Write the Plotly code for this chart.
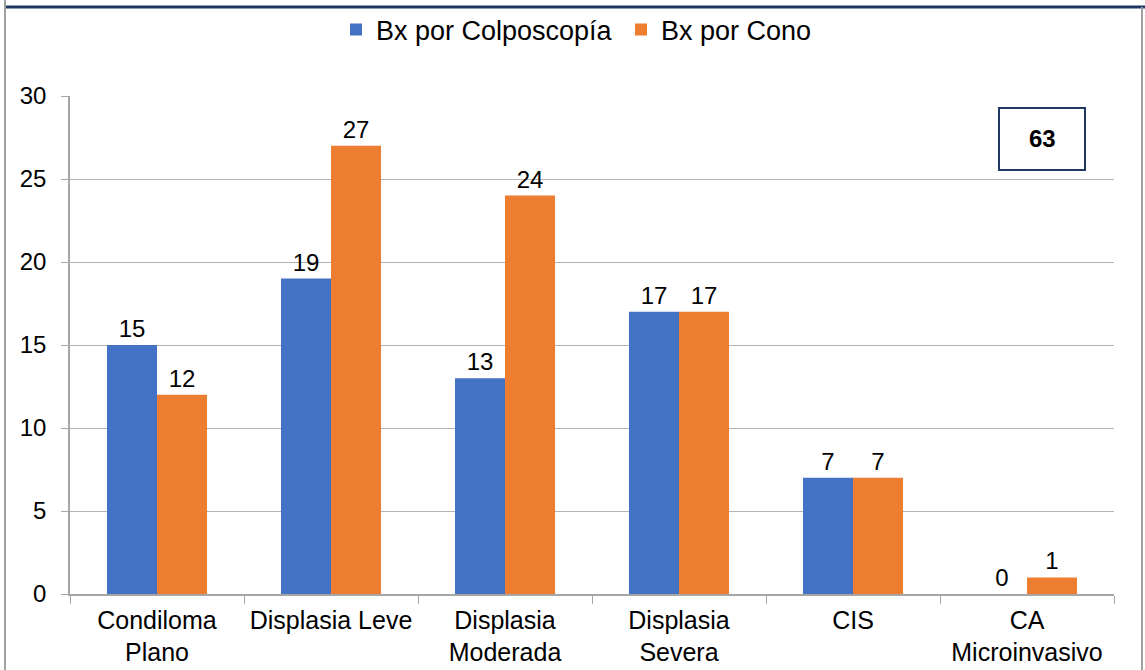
import plotly.graph_objects as go

categories = ["Condiloma<br>Plano", "Displasia Leve", "Displasia<br>Moderada",
              "Displasia<br>Severa", "CIS", "CA<br>Microinvasivo"]
colposcopia = [15, 19, 13, 17, 7, 0]
cono = [12, 27, 24, 17, 7, 1]
series_names = ["Bx por Colposcopía", "Bx por Cono"]
total_label = "63"

FONT = "Liberation Sans, Arial, sans-serif"
FS_X = 25
FS_LEG = 27
FS_Y = 24
FS_LBL = 24
W, H = 1145, 670
L, R, T, B = 70, 31, 96, 76
pw, ph = W - L - R, H - T - B

def px_x(p):
    return (p - L) / pw

def px_y(p):
    return (H - B - p) / ph

fig = go.Figure()
fig.add_trace(go.Bar(x=categories, y=colposcopia, name=series_names[0],
                     marker=dict(color="#4472C4", line=dict(width=0)),
                     text=colposcopia, textposition="outside",
                     textfont=dict(size=FS_LBL, color="black", family=FONT),
                     cliponaxis=False))
fig.add_trace(go.Bar(x=categories, y=cono, name=series_names[1],
                     marker=dict(color="#ED7D31", line=dict(width=0)),
                     text=cono, textposition="outside",
                     textfont=dict(size=FS_LBL, color="black", family=FONT),
                     cliponaxis=False))

shapes = [
    dict(type="line", xref="paper", yref="paper", x0=px_x(4), x1=px_x(1145), y0=px_y(7), y1=px_y(7),
         line=dict(color="#1F3864", width=3)),
    dict(type="line", xref="paper", yref="paper", x0=px_x(5), x1=px_x(5), y0=px_y(0), y1=px_y(670),
         line=dict(color="#A0A0A0", width=2)),
    dict(type="line", xref="paper", yref="paper", x0=px_x(1142), x1=px_x(1142), y0=px_y(7), y1=px_y(670),
         line=dict(color="#A0A0A0", width=2)),
    dict(type="rect", xref="paper", yref="paper", x0=px_x(999), x1=px_x(1085), y0=px_y(108), y1=px_y(170),
         line=dict(color="#1F3864", width=2), fillcolor="white"),
]

fig.update_layout(
    width=W, height=H,
    margin=dict(l=L, r=R, t=T, b=B, autoexpand=False),
    paper_bgcolor="white", plot_bgcolor="white",
    font=dict(family=FONT, size=FS_X, color="black"),
    barmode="group", bargap=0.425, bargroupgap=0,
    showlegend=True,
    legend=dict(orientation="h", x=px_x(336), xanchor="left", y=px_y(30), yanchor="middle",
                font=dict(size=FS_LEG, family=FONT), traceorder="normal", itemwidth=30,
                entrywidth=240, entrywidthmode="pixels",
                bgcolor="rgba(0,0,0,0)"),
    shapes=shapes,
    annotations=[dict(text="<b>" + total_label + "</b>", xref="paper", yref="paper",
                      x=px_x(1042), y=px_y(139), xanchor="center", yanchor="middle",
                      showarrow=False, font=dict(size=FS_LBL, family=FONT, color="black"))],
    xaxis=dict(showgrid=False, showline=True, linecolor="#A6A6A6", linewidth=1.5,
               ticks="outside", tickson="boundaries", ticklen=8, tickcolor="#A6A6A6",
               tickfont=dict(size=FS_X, family=FONT), tickangle=0, automargin=False,
               ticklabelstandoff=3),
    yaxis=dict(range=[0, 30], dtick=5, showgrid=True, gridcolor="#B4B4B4", gridwidth=1,
               showline=True, linecolor="#A6A6A6", linewidth=1.5,
               ticks="outside", ticklen=7, tickcolor="#A6A6A6",
               tickfont=dict(size=FS_Y, family=FONT), zeroline=False, automargin=False,
               ticklabelstandoff=10),
)

fig.write_html("out.html", config={"displayModeBar": False},
               post_script="document.body.style.margin='0';document.body.style.overflow='hidden';")
